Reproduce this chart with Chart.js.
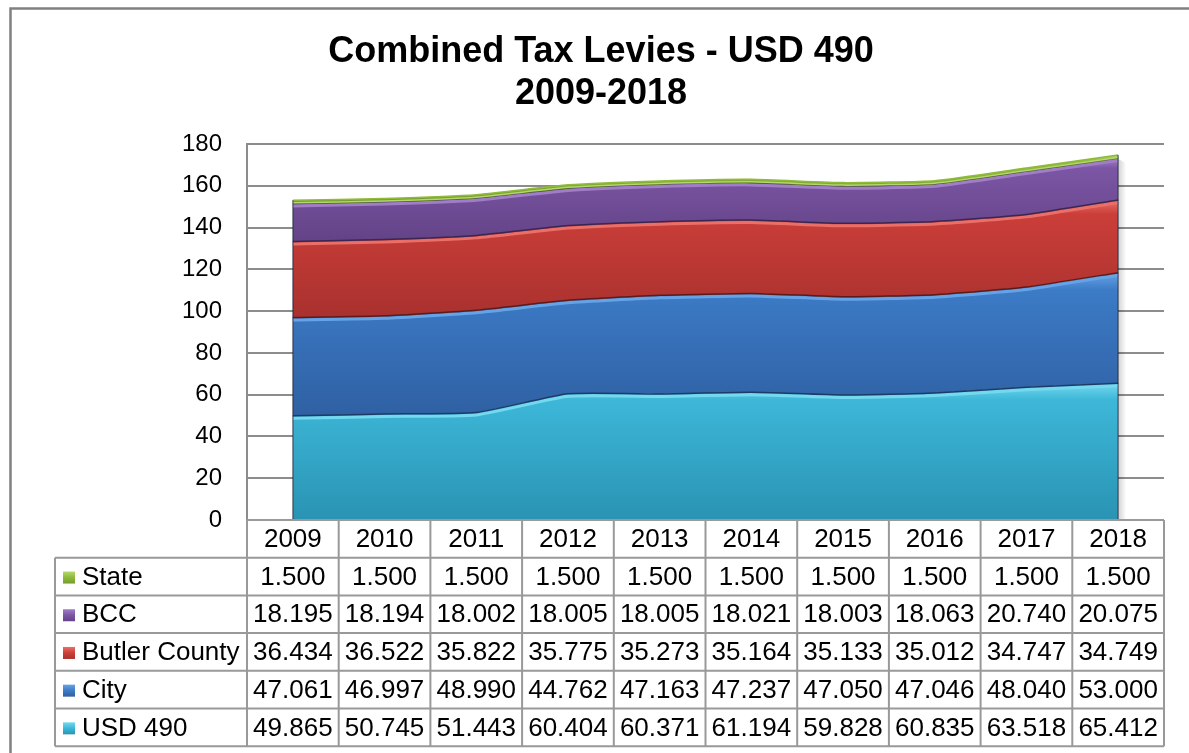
<!DOCTYPE html>
<html>
<head>
<meta charset="utf-8">
<script src="https://cdn.jsdelivr.net/npm/chart.js@4.4.1/dist/chart.umd.min.js"></script>
<style>
  html, body { margin: 0; padding: 0; background: #fff; }
  #wrap { position: relative; width: 1189px; height: 753px; }
  canvas { display: block; }
</style>
</head>
<body>
<div id="wrap"><canvas id="c" width="1189" height="753"></canvas></div>
<script>
// ---- data ----
const years = ['2009', '2010', '2011', '2012', '2013', '2014', '2015', '2016', '2017', '2018'];
const usd490 = [49.865, 50.745, 51.443, 60.404, 60.371, 61.194, 59.828, 60.835, 63.518, 65.412];
const city = [47.061, 46.997, 48.990, 44.762, 47.163, 47.237, 47.050, 47.046, 48.040, 53.000];
const butlerCounty = [36.434, 36.522, 35.822, 35.775, 35.273, 35.164, 35.133, 35.012, 34.747, 34.749];
const bcc = [18.195, 18.194, 18.002, 18.005, 18.005, 18.021, 18.003, 18.063, 20.740, 20.075];
const state = [1.500, 1.500, 1.500, 1.500, 1.500, 1.500, 1.500, 1.500, 1.500, 1.500];
const seriesNames = ['USD 490', 'City', 'Butler County', 'BCC', 'State'];
const yMin = 0, yMax = 180, yStep = 20;
const titleLines = ['Combined Tax Levies - USD 490', '2009-2018'];

// ---- styles ----
const FONT = '"Liberation Sans", Arial, sans-serif';
const palette = [
  { light: '#74d8ef', mid: '#3db7d8', dark: '#2a93b3', edge: '#1d5f75' },
  { light: '#66a3e6', mid: '#3c7bc6', dark: '#2f60a3', edge: '#1d3b66' },
  { light: '#ea6f69', mid: '#cb3e39', dark: '#a9312e', edge: '#5e1a18' },
  { light: '#a07ec6', mid: '#7c56a5', dark: '#634387', edge: '#3a2650' },
  { light: '#b5d86a', mid: '#8fba3c', dark: '#769b2e', edge: '#4b6a18' }
];
const allSeries = [usd490, city, butlerCounty, bcc, state];

function bandGradient(ctx, i) {
  const chart = ctx.chart;
  const ys = chart.scales && chart.scales.y;
  if (!ys || !chart.chartArea) return palette[i].mid;
  let minTop = Infinity, maxBot = -Infinity;
  for (let k = 0; k < years.length; k++) {
    let bot = 0;
    for (let j = 0; j < i; j++) bot += allSeries[j][k];
    const top = bot + allSeries[i][k];
    minTop = Math.min(minTop, ys.getPixelForValue(top));
    maxBot = Math.max(maxBot, ys.getPixelForValue(bot));
  }
  const g = chart.ctx.createLinearGradient(0, minTop, 0, maxBot);
  g.addColorStop(0, palette[i].light);
  g.addColorStop(0.12, palette[i].mid);
  g.addColorStop(1, palette[i].dark);
  return g;
}

const datasets = allSeries.map((arr, i) => ({
  label: seriesNames[i],
  data: arr,
  fill: i === 0 ? 'origin' : '-1',
  backgroundColor: (ctx) => bandGradient(ctx, i),
  borderWidth: 0,
  borderColor: 'rgba(0,0,0,0)',
  pointRadius: 0,
  tension: 0.15
}));

// bevel-like edges, drawn along the library's own line paths
const bevelPlugin = {
  id: 'bevel',
  afterDatasetsDraw(chart) {
    const ctx = chart.ctx;
    const n = chart.data.datasets.length;
    const first = chart.getDatasetMeta(0).data;
    const last = chart.getDatasetMeta(n - 1).data;
    const bottom = chart.scales.y.getPixelForValue(0);
    // soft shadow on the right side
    ctx.save();
    const k = years.length - 1;
    const sg = ctx.createLinearGradient(first[k].x, 0, first[k].x + 8, 0);
    sg.addColorStop(0, 'rgba(0,0,0,0.18)');
    sg.addColorStop(1, 'rgba(0,0,0,0)');
    ctx.fillStyle = sg;
    ctx.beginPath();
    ctx.moveTo(first[k].x, last[k].y + 4);
    ctx.lineTo(first[k].x + 8, last[k].y + 8);
    ctx.lineTo(first[k].x + 8, bottom);
    ctx.lineTo(first[k].x, bottom);
    ctx.closePath();
    ctx.fill();
    ctx.restore();
    for (let i = 0; i < n; i++) {
      const meta = chart.getDatasetMeta(i);
      const line = meta.dataset;
      ctx.save();
      ctx.translate(0, 2.5);
      ctx.beginPath();
      line.path(ctx);
      ctx.strokeStyle = palette[i].light;
      ctx.lineWidth = i === n - 1 ? 1.5 : 3;
      ctx.stroke();
      ctx.restore();
      ctx.save();
      ctx.beginPath();
      line.path(ctx);
      ctx.strokeStyle = i === n - 1 ? palette[i].mid : palette[Math.min(i + 1, n - 1)].edge;
      ctx.lineWidth = 1.5;
      ctx.stroke();
      ctx.restore();
    }
    ctx.save();
    ctx.strokeStyle = 'rgba(20,30,50,0.55)';
    ctx.lineWidth = 1.5;
    [0, years.length - 1].forEach(j => {
      ctx.beginPath();
      ctx.moveTo(first[j].x, bottom);
      ctx.lineTo(last[j].x, last[j].y);
      ctx.stroke();
    });
    ctx.restore();
  }
};

// title, outer frame and data table
const extrasPlugin = {
  id: 'extras',
  afterDraw(chart) {
    const ctx = chart.ctx;
    const area = chart.chartArea;
    const xs = chart.scales.x;
    ctx.save();
    ctx.strokeStyle = '#808080';
    ctx.lineWidth = 2.5;
    ctx.strokeRect(10.5, 8.5, 1300, 900);
    ctx.fillStyle = '#000';
    ctx.textAlign = 'center';
    ctx.textBaseline = 'alphabetic';
    ctx.font = 'bold 36px ' + FONT;
    ctx.fillText(titleLines[0], 601, 62);
    ctx.fillText(titleLines[1], 601, 104);

    const colW = (area.right - area.left) / years.length;
    const rowH = 37.7;
    const top = area.bottom;
    const tableLeft = 55;
    const rows = seriesNames.length;
    ctx.strokeStyle = '#999';
    ctx.lineWidth = 2;
    ctx.beginPath();
    ctx.moveTo(area.left, top); ctx.lineTo(area.right, top);
    for (let r = 1; r <= rows + 1; r++) {
      const y = top + r * rowH;
      ctx.moveTo(tableLeft, y); ctx.lineTo(area.right, y);
    }
    for (let k = 0; k <= years.length; k++) {
      const x = area.left + k * colW;
      ctx.moveTo(x, top); ctx.lineTo(x, top + (rows + 1) * rowH);
    }
    ctx.moveTo(tableLeft, top + rowH); ctx.lineTo(tableLeft, top + (rows + 1) * rowH);
    ctx.stroke();

    ctx.font = '26px ' + FONT;
    ctx.fillStyle = '#000';
    ctx.textBaseline = 'middle';
    ctx.textAlign = 'center';
    years.forEach((yr, k) => {
      ctx.fillText(yr, xs.getPixelForValue(k), top + rowH / 2 + 1);
    });
    for (let r = 0; r < rows; r++) {
      const si = rows - 1 - r;
      const cy = top + (r + 1) * rowH + rowH / 2 + 1;
      const sx = 63, sy = cy - 6, ss = 12;
      const g = ctx.createLinearGradient(0, sy, 0, sy + ss);
      g.addColorStop(0, palette[si].light);
      g.addColorStop(0.5, palette[si].mid);
      g.addColorStop(1, palette[si].dark);
      ctx.fillStyle = g;
      ctx.fillRect(sx, sy, ss, ss);
      ctx.fillStyle = '#000';
      ctx.textAlign = 'left';
      ctx.fillText(seriesNames[si], 82, cy);
      ctx.textAlign = 'center';
      allSeries[si].forEach((v, k) => {
        ctx.fillText(v.toFixed(3), xs.getPixelForValue(k), cy);
      });
    }
    ctx.restore();
  }
};

new Chart(document.getElementById('c'), {
  type: 'line',
  data: { labels: years, datasets },
  options: {
    responsive: false,
    animation: false,
    layout: { padding: { top: 144, bottom: 233, left: 0, right: 25 } },
    plugins: { legend: { display: false }, tooltip: { enabled: false }, title: { display: false } },
    scales: {
      x: {
        type: 'category',
        offset: true,
        grid: { display: false, drawTicks: false },
        border: { display: false },
        ticks: { display: false }
      },
      y: {
        stacked: true,
        min: yMin,
        max: yMax,
        afterFit(scale) { scale.width = 247; },
        ticks: { stepSize: yStep, padding: 25, color: '#000', font: { family: FONT, size: 24 } },
        grid: { color: '#8c8c8c', lineWidth: 2, drawTicks: false },
        border: { display: true, color: '#8c8c8c', width: 2 }
      }
    }
  },
  plugins: [bevelPlugin, extrasPlugin]
});
</script>
</body>
</html>
